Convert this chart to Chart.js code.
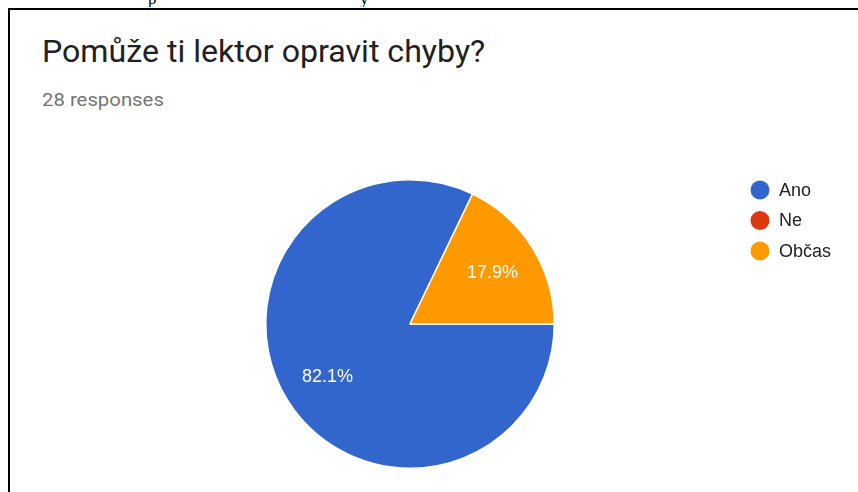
<!DOCTYPE html>
<html>
<head>
<meta charset="utf-8">
<script src="https://cdn.jsdelivr.net/npm/chart.js@4.4.1/dist/chart.umd.min.js"></script>
<style>
  html, body { margin: 0; padding: 0; background: #fff; }
  #wrap { position: relative; width: 858px; height: 492px; overflow: hidden; }
  #frame { position: absolute; left: 8px; top: 8px; width: 900px; height: 600px;
           border-left: 2px solid #000; border-top: 2px solid #000; }
  #clip { position: absolute; left: 0; top: 0; width: 858px; height: 7px; overflow: hidden;
          font: 17px "Liberation Serif", serif; color: #000; }
  #clip span { position: absolute; top: -11px; }
  #title { position: absolute; left: 42px; top: 35.5px; font: 31px/1 Roboto, sans-serif; color: #212121;
           white-space: nowrap; transform: scaleX(1.036); transform-origin: left top; }
  #sub { position: absolute; left: 42px; top: 90px; font: 19px/1 Roboto, sans-serif; color: #757575;
         white-space: nowrap; transform: scaleX(1.07); transform-origin: left top; }
  canvas { position: absolute; left: 0; top: 0; }
</style>
</head>
<body>
<div id="wrap">
  <div id="clip"><span style="left:148px">p</span><span style="left:360px">y</span></div>
  <div id="frame"></div>
  <div id="title">Pomůže ti lektor opravit chyby?</div>
  <div id="sub">28 responses</div>
  <canvas id="chart" width="858" height="492"></canvas>
</div>
<script>
const LABELS = ["Ano", "Ne", "Občas"];
const COUNTS = [23, 0, 5];
const COLORS = ["#3366cc", "#dc3912", "#ff9900"];

// percentage labels inside slices
const sliceLabels = {
  id: "sliceLabels",
  afterDatasetsDraw(chart) {
    const ctx = chart.ctx;
    const meta = chart.getDatasetMeta(0);
    const total = COUNTS.reduce((s, v) => s + v, 0);
    ctx.save();
    ctx.fillStyle = "#fff";
    ctx.font = "18px 'Liberation Sans', Arial, sans-serif";
    ctx.textAlign = "center";
    ctx.textBaseline = "middle";
    meta.data.forEach((arc, i) => {
      if (!COUNTS[i]) return;
      const p = arc.getProps(["x", "y", "startAngle", "endAngle", "outerRadius"], true);
      const mid = (p.startAngle + p.endAngle) / 2;
      const r = p.outerRadius * 0.675;
      const txt = (COUNTS[i] / total * 100).toFixed(1) + "%";
      ctx.fillText(txt, p.x + Math.cos(mid) * r, p.y + Math.sin(mid) * r + 1);
    });
    ctx.restore();
  }
};

// legend on the right
const sideLegend = {
  id: "sideLegend",
  afterDraw(chart) {
    const ctx = chart.ctx;
    ctx.save();
    ctx.font = "18px 'Liberation Sans', Arial, sans-serif";
    ctx.textBaseline = "middle";
    LABELS.forEach((lab, i) => {
      const y = 190 + i * 30.5;
      ctx.beginPath();
      ctx.arc(760, y, 9.5, 0, Math.PI * 2);
      ctx.fillStyle = COLORS[i];
      ctx.fill();
      ctx.fillStyle = "#222";
      ctx.fillText(lab, 779, y + 1);
    });
    ctx.restore();
  }
};

new Chart(document.getElementById("chart"), {
  type: "pie",
  data: {
    labels: LABELS,
    datasets: [{
      data: COUNTS,
      backgroundColor: COLORS,
      borderColor: "#fff",
      borderWidth: 1.5,
    }],
  },
  options: {
    responsive: false,
    animation: false,
    rotation: 90,
    layout: { padding: { left: 265, top: 179, right: 303, bottom: 23 } },
    plugins: { legend: { display: false }, tooltip: { enabled: false } },
  },
  plugins: [sliceLabels, sideLegend],
});
</script>
</body>
</html>
